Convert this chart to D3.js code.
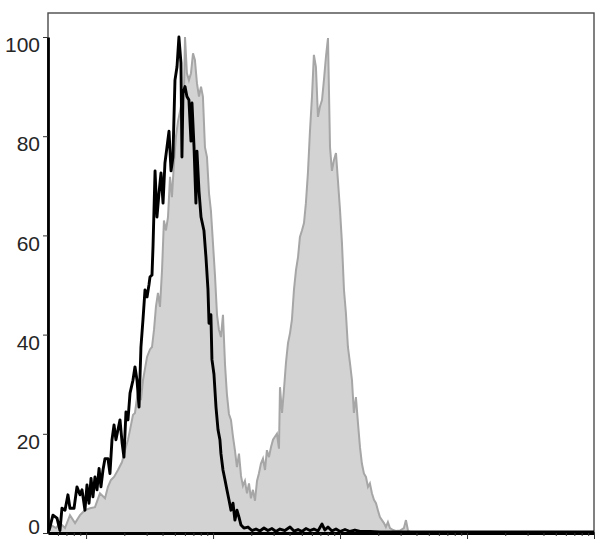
<!DOCTYPE html>
<html>
<head>
<meta charset="utf-8">
<script src="https://cdn.jsdelivr.net/npm/d3@7"></script>
<style>
  body { margin: 0; background: #fff; }
  svg { display: block; }
</style>
</head>
<body>
<div id="chart"></div>
<script>
// fluorescence, as log10 of intensity, and % of max for each histogram
const blackExp = [
  1.708, 1.739, 1.771, 1.794, 1.810, 1.834, 1.857, 1.873, 1.905, 1.928,
  1.952, 1.968, 1.991, 2.007, 2.023, 2.039, 2.054, 2.070, 2.086, 2.102,
  2.117, 2.133, 2.149, 2.172, 2.188, 2.204, 2.220, 2.235, 2.251, 2.267,
  2.283, 2.298, 2.314, 2.330, 2.346, 2.369, 2.385, 2.401, 2.417, 2.432,
  2.448, 2.464, 2.480, 2.495, 2.503, 2.519, 2.527, 2.543, 2.558, 2.574,
  2.590, 2.606, 2.621, 2.637, 2.653, 2.669, 2.684, 2.700, 2.716, 2.731,
  2.747, 2.755, 2.763, 2.779, 2.794, 2.810, 2.826, 2.834, 2.850, 2.865,
  2.873, 2.889, 2.905, 2.928, 2.944, 2.960, 2.968, 2.983, 2.991, 3.007,
  3.023, 3.039, 3.054, 3.062, 3.078, 3.094, 3.109, 3.125, 3.141, 3.157,
  3.172, 3.188, 3.204, 3.220, 3.243, 3.275, 3.306, 3.338, 3.369, 3.401,
  3.432, 3.464, 3.495, 3.527, 3.566, 3.606, 3.637, 3.669, 3.700, 3.731,
  3.763, 3.794, 3.826, 3.858, 3.881, 3.905, 3.936, 3.968, 4.000, 4.039,
  4.078, 4.117, 4.157, 4.235, 4.314, 4.472, 4.865, 5.259, 6.000
];
const blackPct = [
  0.5, 3.6, 3.0, 0.5, 5.0, 4.6, 7.7, 5.0, 5.0, 9.3,
  7.7, 8.7, 4.6, 9.7, 6.0, 11.0, 7.3, 11.3, 8.7, 13.0,
  9.3, 12.7, 15.0, 15.0, 12.0, 18.8, 21.8, 18.8, 20.8, 22.8,
  18.3, 15.3, 24.4, 22.8, 28.2, 30.8, 33.5, 30.8, 25.4, 37.5,
  43.0, 49.0, 47.6, 50.0, 51.6, 52.0, 57.7, 73.0, 63.7, 68.5,
  72.6, 66.5, 74.6, 77.8, 81.0, 73.0, 75.8, 91.3, 94.0, 100,
  94.8, 75.8, 88.7, 90.0, 88.0, 87.3, 79.0, 86.7, 77.8, 66.5,
  77.0, 69.0, 63.7, 61.0, 55.6, 49.0, 42.3, 44.0, 35.0, 32.0,
  25.4, 20.8, 18.8, 16.0, 12.7, 10.7, 8.7, 6.7, 4.6, 6.0,
  2.6, 4.6, 3.2, 1.6, 1.0, 1.2, 0.5, 0.8, 0.4, 1.0,
  0.5, 0.9, 0.3, 0.8, 0.5, 1.2, 0.4, 0.7, 0.3, 0.9,
  0.5, 0.8, 0.4, 1.8, 0.6, 1.2, 0.4, 0.8, 0.3, 0.7,
  0.3, 0.6, 0.3, 0.3, 0.2, 0.2, 0.2, 0.2, 0.2
];

const grayExp = [
  1.708, 1.731, 1.763, 1.794, 1.834, 1.873, 1.913, 1.952, 1.991, 2.031,
  2.070, 2.109, 2.149, 2.172, 2.196, 2.220, 2.251, 2.283, 2.306, 2.330,
  2.346, 2.369, 2.385, 2.409, 2.432, 2.448, 2.480, 2.503, 2.519, 2.535,
  2.550, 2.566, 2.582, 2.598, 2.613, 2.629, 2.645, 2.661, 2.676, 2.692,
  2.708, 2.724, 2.747, 2.771, 2.779, 2.794, 2.810, 2.826, 2.842, 2.857,
  2.873, 2.889, 2.905, 2.920, 2.936, 2.952, 2.968, 2.983, 2.999, 3.015,
  3.031, 3.046, 3.062, 3.078, 3.094, 3.109, 3.125, 3.141, 3.157, 3.172,
  3.188, 3.204, 3.220, 3.235, 3.251, 3.267, 3.283, 3.298, 3.314, 3.330,
  3.346, 3.361, 3.377, 3.393, 3.409, 3.424, 3.440, 3.456, 3.472, 3.487,
  3.503, 3.519, 3.527, 3.543, 3.558, 3.574, 3.590, 3.606, 3.621, 3.637,
  3.653, 3.669, 3.684, 3.700, 3.716, 3.731, 3.747, 3.763, 3.779, 3.794,
  3.810, 3.826, 3.842, 3.858, 3.873, 3.889, 3.905, 3.921, 3.936, 3.952,
  3.968, 3.983, 4.000, 4.015, 4.031, 4.046, 4.062, 4.078, 4.094, 4.109,
  4.125, 4.141, 4.157, 4.172, 4.188, 4.204, 4.220, 4.235, 4.251, 4.267,
  4.283, 4.298, 4.314, 4.330, 4.346, 4.361, 4.377, 4.393, 4.417, 4.440,
  4.472, 4.503, 4.519, 4.535, 4.566
];
const grayPct = [
  0.5, 1.5, 1.0, 2.0, 1.0, 3.6, 2.0, 3.6, 4.6, 5.0,
  5.2, 8.0, 7.0, 9.3, 10.7, 11.3, 12.7, 14.3, 16.7, 18.8,
  20.8, 23.8, 24.2, 28.8, 26.8, 30.8, 35.5, 37.0, 37.5, 41.0,
  45.6, 48.4, 45.6, 53.0, 63.0, 61.0, 63.7, 71.8, 67.7, 74.6,
  80.0, 83.0, 86.0, 89.0, 100, 92.7, 91.3, 92.7, 96.7, 95.4,
  90.7, 88.0, 90.0, 88.0, 77.8, 75.8, 68.5, 65.0, 58.5, 52.0,
  44.0, 41.0, 39.5, 44.0, 34.0, 28.0, 24.0, 22.8, 19.4, 16.7,
  13.3, 16.0, 11.5, 9.5, 10.5, 8.0, 10.0, 7.0, 8.7, 6.5,
  10.5, 12.0, 14.0, 15.0, 12.7, 16.7, 15.3, 17.3, 18.8, 19.4,
  20.0, 17.0, 29.4, 24.2, 28.8, 34.3, 38.3, 40.3, 43.0, 49.0,
  53.0, 55.6, 59.7, 61.0, 62.5, 66.5, 72.6, 81.0, 88.0, 96.4,
  94.0, 83.9, 86.0, 87.3, 91.3, 96.0, 99.8, 77.8, 73.0, 75.2,
  76.6, 71.2, 65.0, 58.5, 49.0, 44.4, 37.5, 34.3, 30.8, 24.2,
  27.4, 22.2, 17.3, 14.0, 12.0, 11.3, 9.3, 10.0, 8.0, 6.7,
  6.0, 4.6, 3.2, 2.6, 2.0, 1.2, 2.2, 1.0, 0.6, 0.4,
  0.5, 1.0, 2.6, 0.5, 0.0
];

const yTicks = [0, 20, 40, 60, 80, 100];

const W = 608, H = 545;
const plot = {left: 48, right: 594, top: 13, bottom: 533};

const svg = d3.select("#chart").append("svg")
  .attr("width", W)
  .attr("height", H);

const x = d3.scaleLog()
  .domain([10 ** 1.7, 1e6])
  .range([plot.left, plot.right]);
const y = d3.scaleLinear()
  .domain([0, 100])
  .range([plot.bottom, 37]);

function pairs(exps, vals) {
  return exps.map((e, i) => ({e: e, v: vals[i]}));
}
const gray = pairs(grayExp, grayPct);
const black = pairs(blackExp, blackPct);

// frame
svg.append("rect")
  .attr("x", plot.left)
  .attr("y", plot.top)
  .attr("width", plot.right - plot.left)
  .attr("height", plot.bottom - plot.top)
  .attr("fill", "none")
  .attr("stroke", "#4a4a4a")
  .attr("stroke-width", 1.4);

// filled (gray) histogram
const area = d3.area()
  .x(d => x(10 ** d.e))
  .y0(y(0))
  .y1(d => y(d.v));
const line = d3.line()
  .x(d => x(10 ** d.e))
  .y(d => y(d.v));

svg.append("path")
  .datum(gray)
  .attr("d", area)
  .attr("fill", "#d3d3d3");
svg.append("path")
  .datum(gray)
  .attr("d", line)
  .attr("fill", "none")
  .attr("stroke", "#a6a6a6")
  .attr("stroke-width", 2);

// open (black) histogram
svg.append("path")
  .datum(black)
  .attr("d", line)
  .attr("fill", "none")
  .attr("stroke", "#000")
  .attr("stroke-width", 2.9)
  .attr("stroke-linejoin", "round");

// y axis
const yAxis = svg.append("g")
  .attr("transform", "translate(" + plot.left + ",0)")
  .call(d3.axisLeft(y).tickValues(yTicks).tickSize(5).tickSizeOuter(0).tickPadding(3));
yAxis.select(".domain")
  .attr("stroke", "#000")
  .attr("stroke-width", 2.8);
yAxis.selectAll(".tick line").attr("stroke", "#333");
yAxis.selectAll(".tick text")
  .attr("font-family", "'Liberation Sans', Arial, sans-serif")
  .attr("font-size", 21)
  .attr("fill", "#262626")
  .attr("transform", d => "translate(0," + (d === 0 ? -6 : 8) + ")");

// x axis, log decades without labels
const xAxis = svg.append("g")
  .attr("transform", "translate(0," + plot.bottom + ")")
  .call(d3.axisBottom(x).tickValues(x.ticks()).tickSize(3).tickSizeOuter(0).tickFormat(""));
xAxis.select(".domain")
  .attr("stroke", "#000")
  .attr("stroke-width", 2.8);
xAxis.selectAll(".tick line")
  .attr("stroke", "#333")
  .attr("y2", d => {
    const l = Math.log10(d);
    return Math.abs(l - Math.round(l)) < 1e-9 ? 6 : 3;
  });
</script>
</body>
</html>
